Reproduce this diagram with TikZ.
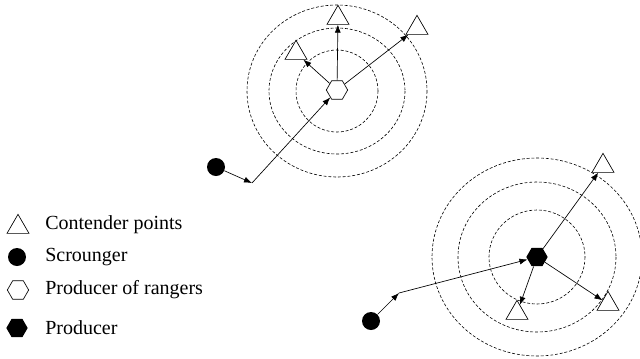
\documentclass[tikz,border=0pt]{standalone}
\usepackage{fontspec}
\setmainfont{Liberation Serif}
\usetikzlibrary{shapes.geometric,arrows.meta}

\begin{document}
\begin{tikzpicture}[x=0.75pt,y=-0.75pt,
		ring/.style={draw,dashed,dash pattern=on 2.2pt off 1.4pt,line width=0.45pt},
		cont/.style={draw,regular polygon,regular polygon sides=3,minimum size=19pt,inner sep=0pt,fill=white,line width=0.5pt},
		scro/.style={circle,fill=black,minimum size=13.5pt,inner sep=0pt},
		prodr/.style={draw,regular polygon,regular polygon sides=6,minimum size=16pt,inner sep=0pt,fill=white,line width=0.5pt},
		prod/.style={regular polygon,regular polygon sides=6,minimum size=16pt,inner sep=0pt,fill=black},
		lbl/.style={anchor=west,font=\fontsize{15}{18}\selectfont,inner sep=0pt},
		mv/.style={-{Latex[length=6pt,width=4.5pt]},line width=0.5pt}]
		\useasboundingbox (0,0) rectangle (640,358);

		% upper group
		\draw[ring] (337,91) ellipse (41 and 41);
		\draw[ring] (337,91) ellipse (68 and 63);
		\draw[ring] (337,91) ellipse (90 and 86);
		\node(H)[prodr] at (337,90){};
		\node(T1)[cont] at (338,18){};
		\node(T2)[cont] at (296,53){};
		\node(T3)[cont] at (417,28){};
		\node(S)[scro] at (216,167){};
		\coordinate(B) at (252,183);

		\draw[mv] (S) -- (B);
		\draw[mv] (B) -- (H);
		\draw[mv] (H) -- (T1);
		\draw[mv] (H) -- (T2);
		\draw[mv] (H) -- (T3);

		% lower group
		\draw[ring] (537,257) ellipse (48 and 47);
		\draw[ring] (537,257) ellipse (79 and 75);
		\draw[ring] (537,257) ellipse (105 and 99);
		\node(P)[prod] at (537,257){};
		\node(U1)[cont] at (603,166){};
		\node(U2)[cont] at (517,313){};
		\node(U3)[cont] at (608,304){};
		\node(R)[scro] at (371,321){};
		\coordinate(C) at (399,293);

		\draw[mv] (R) -- (C);
		\draw[mv] (C) -- (P);
		\draw[mv] (P) -- (U1);
		\draw[mv] (P) -- (U2);
		\draw[mv] (P) -- (U3);

		% legend
		\node(LT)[cont] at (18,227){};
		\node(LS)[scro] at (17,257){};
		\node(LH)[prodr] at (18,290){};
		\node(LP)[prod] at (17,328){};
		\node(XT)[lbl] at (45,225){Contender points};
		\node(XS)[lbl] at (45,257){Scrounger};
		\node(XH)[lbl] at (45,290){Producer of rangers};
		\node(XP)[lbl] at (45,328){Producer};
	\end{tikzpicture}
\end{document}
